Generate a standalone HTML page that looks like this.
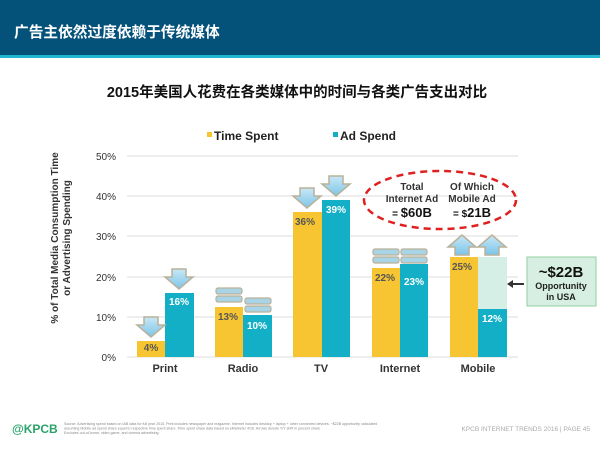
<!DOCTYPE html>
<html><head><meta charset="utf-8"><style>
body{margin:0;width:600px;height:445px;overflow:hidden;background:#fff;font-family:"Liberation Sans","Noto Sans CJK SC",sans-serif;}
</style></head><body>
<svg width="600" height="445" viewBox="0 0 600 445" xmlns="http://www.w3.org/2000/svg" font-family="Liberation Sans, Noto Sans CJK SC, sans-serif">
<defs>
<linearGradient id="ag" x1="0" y1="0" x2="0" y2="1"><stop offset="0" stop-color="#c8e8f6"/><stop offset="1" stop-color="#7cc4e8"/></linearGradient>
<g id="dn"><path d="M-7,-10 h14 v8 h7 l-14,12 l-14,-12 h7z" fill="url(#ag)" stroke="#b9b19a" stroke-width="1.5"/></g>
<g id="up"><path d="M-7,10 h14 v-8 h7 l-14,-12 l-14,12 h7z" fill="url(#ag)" stroke="#b9b19a" stroke-width="1.5"/></g>
<g id="eq"><rect x="-13" y="-7" width="26" height="6" rx="2" fill="#a9d4e6" stroke="#b9b19a" stroke-width="1.2"/><rect x="-13" y="1" width="26" height="6" rx="2" fill="#a9d4e6" stroke="#b9b19a" stroke-width="1.2"/></g>
</defs>
<rect x="0" y="0" width="600" height="55" fill="#04527a"/>
<rect x="0" y="55" width="600" height="3" fill="#1fb6cf"/>
<text x="14" y="37" font-size="14.7" font-weight="bold" fill="#fff">广告主依然过度依赖于传统媒体</text>
<text x="297" y="97" font-size="14.5" font-weight="bold" fill="#111" text-anchor="middle">2015年美国人花费在各类媒体中的时间与各类广告支出对比</text>
<rect x="207" y="132" width="5" height="5" fill="#f7c531"/>
<text x="214" y="140" font-size="12" font-weight="bold" fill="#222">Time Spent</text>
<rect x="333" y="132" width="5" height="5" fill="#13afc6"/>
<text x="340" y="140" font-size="12" font-weight="bold" fill="#222">Ad Spend</text>
<g stroke="#ddd" stroke-width="1">
<line x1="127" y1="156" x2="518" y2="156"/><line x1="127" y1="196" x2="518" y2="196"/><line x1="127" y1="236" x2="518" y2="236"/><line x1="127" y1="277" x2="518" y2="277"/><line x1="127" y1="317" x2="518" y2="317"/><line x1="127" y1="357" x2="518" y2="357"/>
</g>
<g font-size="10" fill="#333" text-anchor="end">
<text x="116" y="160">50%</text><text x="116" y="200">40%</text><text x="116" y="240">30%</text><text x="116" y="281">20%</text><text x="116" y="321">10%</text><text x="116" y="361">0%</text>
</g>
<text transform="translate(58,238) rotate(-90)" font-size="10" font-weight="bold" fill="#333" text-anchor="middle">% of Total Media Consumption Time</text>
<text transform="translate(70,238) rotate(-90)" font-size="10" font-weight="bold" fill="#333" text-anchor="middle">or Advertising Spending</text>
<g fill="#f7c531">
<rect x="137" y="341" width="28" height="16"/><rect x="215" y="307" width="28" height="50"/><rect x="293" y="212" width="29" height="145"/><rect x="372" y="268" width="28" height="89"/><rect x="450" y="257" width="28" height="100"/>
</g>
<rect x="478" y="257" width="29" height="52" fill="#d6efe6"/>
<g fill="#13afc6">
<rect x="165" y="293" width="29" height="64"/><rect x="243" y="315" width="29" height="42"/><rect x="322" y="200" width="28" height="157"/><rect x="400" y="264" width="28" height="93"/><rect x="478" y="309" width="29" height="48"/>
</g>
<g font-size="10" font-weight="bold" text-anchor="middle">
<text x="151" y="351" fill="#555">4%</text><text x="179" y="305" fill="#fff">16%</text>
<text x="228" y="320" fill="#555">13%</text><text x="257" y="329" fill="#fff">10%</text>
<text x="305" y="225" fill="#555">36%</text><text x="336" y="213" fill="#fff">39%</text>
<text x="385" y="281" fill="#555">22%</text><text x="414" y="285" fill="#fff">23%</text>
<text x="462" y="270" fill="#555">25%</text><text x="492" y="322" fill="#fff">12%</text>
</g>
<use href="#dn" x="151" y="327"/><use href="#dn" x="179" y="279"/>
<use href="#eq" x="229" y="295"/><use href="#eq" x="258" y="305"/>
<use href="#dn" x="307" y="198"/><use href="#dn" x="336" y="186"/>
<use href="#eq" x="386" y="256"/><use href="#eq" x="414" y="256"/>
<use href="#up" x="462" y="245"/><use href="#up" x="492" y="245"/>
<g font-size="11" font-weight="bold" fill="#333" text-anchor="middle">
<text x="165" y="372">Print</text><text x="243" y="372">Radio</text><text x="321" y="372">TV</text><text x="400" y="372">Internet</text><text x="478" y="372">Mobile</text>
</g>
<ellipse cx="440" cy="200" rx="76" ry="29" fill="none" stroke="#e02020" stroke-width="2.5" stroke-dasharray="7,5"/>
<g font-size="10" font-weight="bold" fill="#333" text-anchor="middle">
<text x="412" y="190">Total</text><text x="412" y="202">Internet Ad</text>
<text x="472" y="190">Of Which</text><text x="472" y="202">Mobile Ad</text>
</g>
<text x="412" y="217" font-size="13" font-weight="bold" fill="#111" text-anchor="middle"><tspan font-size="10">= </tspan>$60B</text>
<text x="472" y="217" font-size="13" font-weight="bold" fill="#111" text-anchor="middle"><tspan font-size="10">= $</tspan>21B</text>
<rect x="527" y="257" width="69" height="49" fill="#d6efe2" stroke="#8fd19e" stroke-width="1"/>
<text x="561" y="277" font-size="15" font-weight="bold" fill="#111" text-anchor="middle">~$22B</text>
<text x="561" y="289" font-size="9" font-weight="bold" fill="#222" text-anchor="middle">Opportunity</text>
<text x="561" y="300" font-size="9" font-weight="bold" fill="#222" text-anchor="middle">in USA</text>
<line x1="512" y1="284" x2="524" y2="284" stroke="#333" stroke-width="2"/>
<path d="M507,284 l6,-4 v8z" fill="#333"/>
<text x="12" y="433" font-size="12" font-weight="bold" fill="#2aa36a">@KPCB</text>
<g font-size="3.6" fill="#888">
<text x="64" y="425">Source: Advertising spend based on IAB data for full year 2015. Print includes newspaper and magazine. Internet includes desktop + laptop + other connected devices. ~$22B opportunity calculated</text>
<text x="64" y="429.5">assuming Mobile ad spend share equal to respective time spent share. Time spent share data based on eMarketer 4/16. Arrows denote Y/Y shift in percent share</text>
<text x="64" y="434">Excludes out-of-home, video game, and cinema advertising.</text>
</g>
<text x="590" y="431" font-size="6.5" fill="#aaa" text-anchor="end">KPCB INTERNET TRENDS 2016  |  PAGE 45</text>
</svg>
</body></html>
